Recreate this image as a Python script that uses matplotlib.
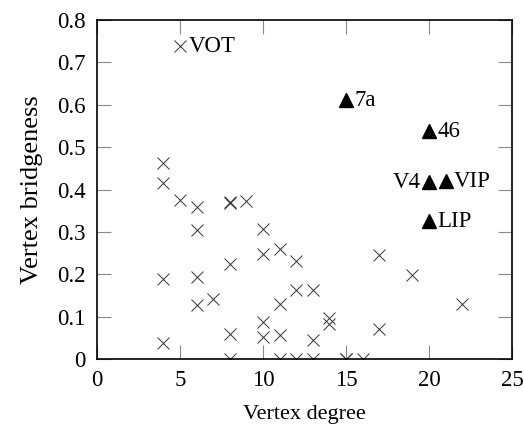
import matplotlib
matplotlib.use('Agg')
import matplotlib.pyplot as plt

plt.rcParams['font.family'] = ['Liberation Serif', 'DejaVu Serif']

# ordinary areas (crosses)
deg = [5, 4, 4, 5, 6, 8, 8, 9, 6, 10, 10, 8, 4, 6, 6, 7, 10, 8, 10, 4, 8,
       11, 12, 12, 13, 11, 14, 14, 11, 13, 11, 12, 13, 15, 15, 16, 17, 17,
       19, 22]
bridge = [0.738, 0.462, 0.415, 0.375, 0.358, 0.370, 0.368, 0.373, 0.304,
          0.307, 0.248, 0.225, 0.189, 0.194, 0.127, 0.141, 0.087, 0.059,
          0.052, 0.038, 0.0,
          0.26, 0.232, 0.163, 0.163, 0.13, 0.097, 0.082, 0.057, 0.045,
          0.0, 0.0, 0.0, 0.0, 0.0, 0.0, 0.245, 0.071, 0.198, 0.13]

# highlighted areas (triangles)
hub_names = ['7a', '46', 'V4', 'VIP', 'LIP']
hub_deg = [15, 20, 20, 21, 20]
hub_bridge = [0.611, 0.538, 0.417, 0.42, 0.325]

fig = plt.figure(figsize=(5.24, 4.24), dpi=100)
ax = fig.add_axes([0.185, 0.153, 0.792, 0.8])

ax.plot(deg, bridge, linestyle='none', marker='x', ms=9, mew=0.7,
        color='#333333')
ax.plot(hub_deg, hub_bridge, linestyle='none', marker='^', ms=10.5,
        color='black')

fs = 16.5
ax.text(5.5, 0.738, 'VOT', fontsize=fs, va='center', ha='left')
for name, x, y in zip(hub_names, hub_deg, hub_bridge):
    if name == 'V4':
        ax.text(x - 0.5, y, name, fontsize=fs, va='center', ha='right')
    else:
        ax.text(x + 0.5, y, name, fontsize=fs, va='center', ha='left')

ax.set_xlim(0, 25)
ax.set_ylim(0, 0.8)
ax.set_xticks([0, 5, 10, 15, 20, 25])
ax.set_yticks([0, 0.1, 0.2, 0.3, 0.4, 0.5, 0.6, 0.7, 0.8])
ax.set_yticklabels(['0', '0.1', '0.2', '0.3', '0.4', '0.5', '0.6', '0.7', '0.8'])
ax.tick_params(direction='in', length=10, width=0.8, color='#888888',
               top=True, right=True, labelsize=fs, pad=8)
for s in ax.spines.values():
    s.set_linewidth(1.2)

ax.set_xlabel('Vertex degree', fontsize=16, labelpad=10)
ax.set_ylabel('Vertex bridgeness', fontsize=19, labelpad=10)

fig.savefig('out.png', dpi=100)
